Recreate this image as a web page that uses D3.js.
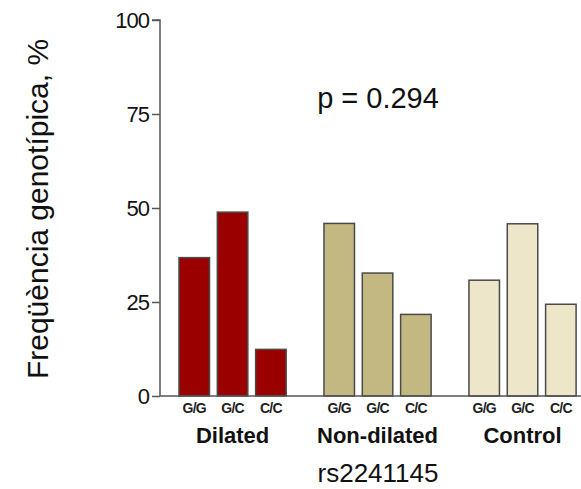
<!DOCTYPE html>
<html>
<head>
<meta charset="utf-8">
<script src="https://cdn.jsdelivr.net/npm/d3@7"></script>
<style>
  html, body { margin: 0; padding: 0; background: #fff; }
  svg { display: block; font-family: "Liberation Sans", Arial, sans-serif; }
</style>
</head>
<body>
<svg id="chart" width="581" height="489"></svg>
<script>
// Genotype frequencies (%) for rs2241145 by group
const groups = ["Dilated", "Non-dilated", "Control"];
const genotypes = ["G/G", "G/C", "C/C"];
const dilatedValues = [36.8, 48.9, 12.4];
const nonDilatedValues = [45.9, 32.7, 21.7];
const controlValues = [30.8, 45.8, 24.4];
const yTicks = [0, 25, 50, 75, 100];
const groupColors = ["#9b0000", "#c3b881", "#ede6c8"];
const pText = "p = 0.294";
const snpLabel = "rs2241145";
const yTitle = "Freqüència genotípica, %";

const seriesByGroup = [dilatedValues, nonDilatedValues, controlValues];
const rows = groups.flatMap((g, gi) =>
  genotypes.map((gt, ti) => ({ group: g, genotype: gt, value: seriesByGroup[gi][ti], gi }))
);

const svg = d3.select("#chart");

const axisX = 160, baseY = 396, topY = 20;

const y = d3.scaleLinear().domain([0, 100]).range([baseY, topY]);

const x0 = d3.scaleBand().domain(groups).range([179, 576.1]).paddingInner(0.261).paddingOuter(0);
const x1 = d3.scaleBand().domain(genotypes).range([0, x0.bandwidth()]).paddingInner(0.204).paddingOuter(0);

// bars
svg.append("g")
  .selectAll("rect")
  .data(rows)
  .join("rect")
  .attr("x", d => x0(d.group) + x1(d.genotype))
  .attr("y", d => y(d.value))
  .attr("width", x1.bandwidth())
  .attr("height", d => y(0) - y(d.value))
  .attr("fill", d => groupColors[d.gi])
  .attr("stroke", "#4a4a4a")
  .attr("stroke-width", 1.5);

// y axis
const yAxis = d3.axisLeft(y).tickValues(yTicks).tickSize(8).tickPadding(3);
const gy = svg.append("g").attr("transform", `translate(${axisX},0)`).call(yAxis);
gy.select(".domain").attr("stroke", "#555").attr("stroke-width", 1.5).attr("d", `M-8,${topY}H0V${baseY}`);
gy.selectAll(".tick line").attr("stroke", "#555").attr("stroke-width", 1.5);
gy.selectAll(".tick text")
  .attr("fill", "#111")
  .style("font-size", "22px")
  .style("letter-spacing", "-1px")
  .attr("dy", "0.35em");

// baseline
svg.append("line")
  .attr("x1", axisX).attr("x2", 581)
  .attr("y1", y(0)).attr("y2", y(0))
  .attr("stroke", "#555").attr("stroke-width", 1.5);

// genotype labels
svg.append("g")
  .selectAll("text")
  .data(rows)
  .join("text")
  .attr("x", d => x0(d.group) + x1(d.genotype) + x1.bandwidth() / 2)
  .attr("y", 413)
  .attr("text-anchor", "middle")
  .style("font-size", "14px")
  .style("font-weight", "bold")
  .style("letter-spacing", "-0.8px")
  .attr("fill", "#222")
  .text(d => d.genotype);

// group labels
svg.append("g")
  .selectAll("text")
  .data(groups)
  .join("text")
  .attr("x", d => x0(d) + x0.bandwidth() / 2)
  .attr("y", 443)
  .attr("text-anchor", "middle")
  .style("font-size", "22px")
  .style("font-weight", "bold")
  .attr("fill", "#111")
  .text(d => d);

// snp label
svg.append("text")
  .attr("x", 378).attr("y", 482)
  .attr("text-anchor", "middle")
  .style("font-size", "26px")
  .attr("fill", "#111")
  .text(snpLabel);

// p-value
svg.append("text")
  .attr("x", 378).attr("y", 108)
  .attr("text-anchor", "middle")
  .style("font-size", "29px")
  .attr("fill", "#111")
  .text(pText);

// y title
svg.append("text")
  .attr("transform", "translate(48,209) rotate(-90)")
  .attr("text-anchor", "middle")
  .style("font-size", "30px")
  .attr("fill", "#111")
  .text(yTitle);
</script>
</body>
</html>
